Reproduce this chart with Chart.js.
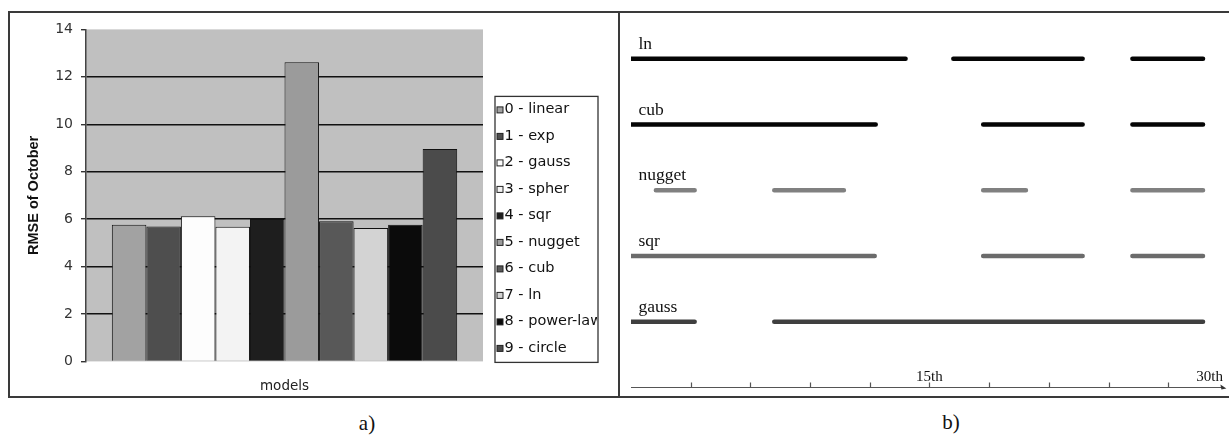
<!DOCTYPE html>
<html>
<head>
<meta charset="utf-8">
<script src="https://cdn.jsdelivr.net/npm/chart.js@4.4.0/dist/chart.umd.min.js"></script>
<style>
  html, body { margin: 0; padding: 0; background: #fff; }
  #page { position: relative; width: 1229px; height: 435px; overflow: hidden; }
  canvas { position: absolute; }
  .rule { position: absolute; background: #3a3a3a; z-index: 2; }
  .cap { position: absolute; font-family: 'Liberation Serif', serif; font-size: 21px; color: #111; transform: translate(-50%, -50%); }
</style>
</head>
<body>
<div id="page">
  <canvas id="rmse" width="608" height="384" style="left:10px;top:13px"></canvas>
  <canvas id="days" width="609" height="384" style="left:620px;top:13px"></canvas>
  <div class="rule" style="left:8px;top:11px;width:1221px;height:2px"></div>
  <div class="rule" style="left:8px;top:396px;width:1221px;height:2px"></div>
  <div class="rule" style="left:8px;top:11px;width:2px;height:387px"></div>
  <div class="rule" style="left:617.5px;top:11px;width:2px;height:387px"></div>
  <div class="cap" style="left:367px;top:423px">a)</div>
  <div class="cap" style="left:951px;top:422px">b)</div>
</div>
<script>
// a) RMSE per model
const models = ['linear', 'exp', 'gauss', 'spher', 'sqr', 'nugget', 'cub', 'ln', 'power-law', 'circle'];
const rmse = [5.76, 5.69, 6.12, 5.68, 6.01, 12.61, 5.91, 5.63, 5.76, 8.96];
const barColors = ['#a2a2a2', '#4e4e4e', '#fdfdfd', '#f3f3f3', '#1e1e1e', '#9b9b9b', '#585858', '#d3d3d3', '#0b0b0b', '#4b4b4b'];

// b) days of the month where each model is chosen
const rows = ['ln', 'cub', 'nugget', 'sqr', 'gauss'];
const lnRuns = [[0, 13.8], [16.2, 22.7], [25.2, 28.75]];
const cubRuns = [[0, 12.3], [17.7, 22.7], [25.2, 28.75]];
const nuggetRuns = [[1.25, 3.2], [7.2, 10.7], [17.7, 19.85], [25.2, 28.75]];
const sqrRuns = [[0, 12.25], [17.7, 22.7], [25.2, 28.75]];
const gaussRuns = [[0, 3.2], [7.2, 28.75]];
const rowColors = ['#050505', '#050505', '#808080', '#6b6b6b', '#3f3f3f'];
const labelledDays = [15, 30];
const dayLabels = ['15th', '30th'];

Chart.defaults.font.family = '"DejaVu Sans", sans-serif';
Chart.defaults.animation = false;

const plotBackground = {
  id: 'plotBackground',
  beforeDraw(chart) {
    const { ctx, chartArea: a } = chart;
    ctx.save();
    ctx.fillStyle = '#c0c0c0';
    ctx.fillRect(a.left, a.top, a.right - a.left, a.bottom - a.top);
    ctx.restore();
  }
};

const boxedLegend = {
  id: 'boxedLegend',
  afterDraw(chart) {
    const { ctx, chartArea } = chart;
    const x0 = chartArea.right + 12, y0 = chartArea.top + 67, w = 103, h = 266;
    ctx.save();
    ctx.fillStyle = '#fff';
    ctx.fillRect(x0, y0, w, h);
    ctx.strokeStyle = '#333';
    ctx.lineWidth = 1.3;
    ctx.strokeRect(x0, y0, w, h);
    ctx.beginPath();
    ctx.rect(x0 + 1, y0 + 1, w - 2, h - 2);
    ctx.clip();
    ctx.font = '14.5px "DejaVu Sans"';
    ctx.textBaseline = 'middle';
    chart.data.datasets.forEach((ds, i) => {
      const cy = y0 + 13 + i * 26.5;
      ctx.fillStyle = ds.backgroundColor;
      ctx.fillRect(x0 + 2, cy - 2.5, 6, 6);
      ctx.strokeStyle = '#222';
      ctx.lineWidth = 1;
      ctx.strokeRect(x0 + 2, cy - 2.5, 6, 6);
      ctx.fillStyle = '#111';
      ctx.fillText(ds.label, x0 + 9.5, cy);
    });
    ctx.restore();
  }
};

new Chart(document.getElementById('rmse'), {
  type: 'bar',
  data: {
    labels: ['models'],
    datasets: models.map((m, i) => ({
      label: i + ' - ' + m,
      data: [rmse[i]],
      backgroundColor: barColors[i],
      borderColor: '#111',
      borderWidth: 1
    }))
  },
  options: {
    responsive: false,
    categoryPercentage: 0.87,
    barPercentage: 1,
    layout: { padding: { left: 8, top: 14, right: 135, bottom: 0 } },
    plugins: { legend: { display: false }, tooltip: { enabled: false } },
    scales: {
      x: {
        grid: { display: false, drawTicks: false },
        border: { display: false },
        ticks: { display: false },
        title: { display: true, text: 'models', color: '#222', font: { size: 13.5 }, padding: { top: 17, bottom: 2.4 } }
      },
      y: {
        min: 0,
        max: 14,
        ticks: { stepSize: 2, color: '#333', font: { size: 14 }, padding: 8 },
        grid: {
          color: c => (c.tick.value > 0 && c.tick.value < 14) ? '#111' : 'rgba(0,0,0,0)',
          lineWidth: 1.4,
          tickColor: '#333',
          tickLength: 5
        },
        border: { color: '#444', width: 1.5 },
        title: {
          display: true,
          text: 'RMSE of October',
          color: '#111',
          font: { family: '"Liberation Sans", Arial, sans-serif', size: 14.5, weight: 'bold' },
          padding: { top: 7.3, bottom: 4.5 }
        }
      }
    }
  },
  plugins: [plotBackground, boxedLegend]
});

// each run becomes two points followed by a gap
function runsToPoints(runs, level) {
  const pts = [];
  runs.forEach(([a, b]) => {
    pts.push({ x: a, y: level }, { x: b, y: level }, { x: b, y: null });
  });
  return pts;
}
const allRuns = [lnRuns, cubRuns, nuggetRuns, sqrRuns, gaussRuns];

const rowLabels = {
  id: 'rowLabels',
  afterDatasetsDraw(chart) {
    const { ctx, chartArea, scales } = chart;
    ctx.save();
    ctx.font = '17.5px "Liberation Serif"';
    ctx.fillStyle = '#111';
    ctx.textBaseline = 'alphabetic';
    rows.forEach((r, i) => {
      const y = scales.y.getPixelForValue(rows.length - i);
      ctx.fillText(r, chartArea.left + 7.5, y - 10);
    });
    ctx.restore();
  }
};

const timeAxis = {
  id: 'timeAxis',
  afterDraw(chart) {
    const { ctx, scales } = chart;
    const x = scales.x, y0 = scales.y.getPixelForValue(0);
    const xs = x.getPixelForValue(x.min), xe = x.getPixelForValue(x.max) - 1.5;
    ctx.save();
    ctx.strokeStyle = '#555';
    ctx.lineWidth = 1.2;
    ctx.beginPath();
    ctx.moveTo(xs, y0);
    ctx.lineTo(xe - 4, y0);
    x.ticks.forEach(t => {
      if (t.value > x.min && t.value < x.max) {
        const px = Math.round(x.getPixelForValue(t.value)) + 0.5;
        ctx.moveTo(px, y0);
        ctx.lineTo(px, y0 - 5);
      }
    });
    ctx.stroke();
    ctx.fillStyle = '#333';
    ctx.beginPath();
    ctx.moveTo(xe, y0 + 1);
    ctx.lineTo(xe - 6, y0 - 3);
    ctx.lineTo(xe - 5, y0 + 2);
    ctx.closePath();
    ctx.fill();
    ctx.font = '15px "Liberation Serif"';
    ctx.fillStyle = '#111';
    ctx.textBaseline = 'alphabetic';
    labelledDays.forEach((d, i) => {
      const last = d >= x.max;
      ctx.textAlign = last ? 'right' : 'center';
      ctx.fillText(dayLabels[i], x.getPixelForValue(d) - (last ? 5 : 0), y0 - 7);
    });
    ctx.restore();
  }
};

new Chart(document.getElementById('days'), {
  type: 'line',
  data: {
    datasets: rows.map((r, i) => ({
      label: r,
      data: runsToPoints(allRuns[i], rows.length - i),
      borderColor: rowColors[i],
      borderWidth: 4.5,
      borderCapStyle: 'round',
      pointRadius: 0,
      spanGaps: false
    }))
  },
  options: {
    responsive: false,
    layout: { padding: { left: 11, top: 12.9, right: 1.1, bottom: 9.5 } },
    plugins: { legend: { display: false }, tooltip: { enabled: false } },
    scales: {
      x: { type: 'linear', min: 0, max: 30, display: false, ticks: { stepSize: 3 } },
      y: { type: 'linear', min: 0, max: 5.5, display: false }
    }
  },
  plugins: [rowLabels, timeAxis]
});
</script>
</body>
</html>
